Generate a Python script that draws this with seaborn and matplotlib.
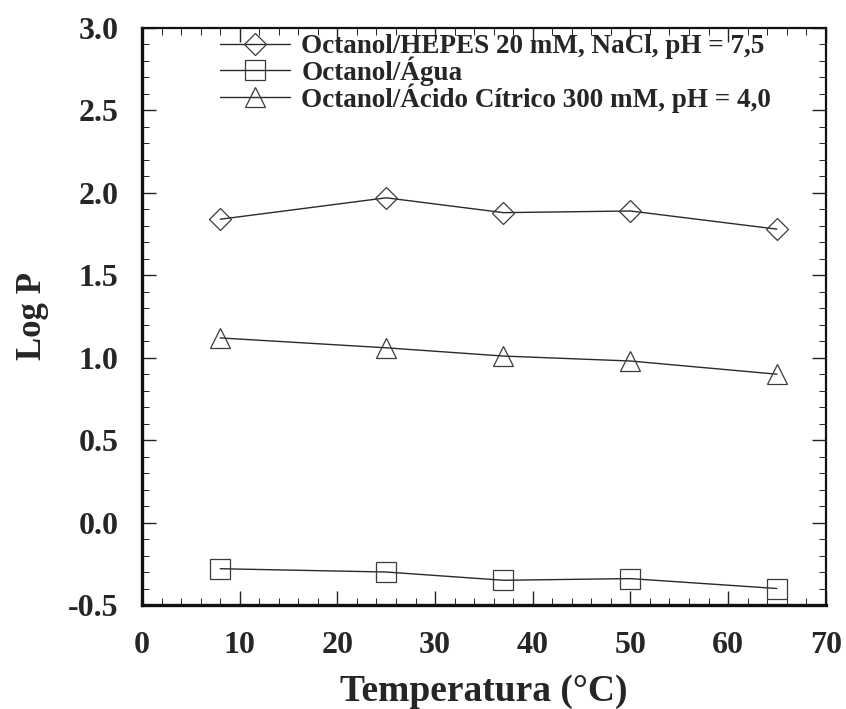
import matplotlib.pyplot as plt
import matplotlib.ticker as mticker
import numpy as np
import pandas as pd
import seaborn as sns

# data
temperatura = [8, 25, 37, 50, 65]
hepes = [1.84, 1.97, 1.88, 1.89, 1.78]
agua = [-0.28, -0.30, -0.35, -0.34, -0.40]
citrico = [1.12, 1.06, 1.01, 0.98, 0.90]

series_names = [
    'Octanol/HEPES 20 mM, NaCl, pH = 7,5',
    'Octanol/Água',
    'Octanol/Ácido Cítrico 300 mM, pH = 4,0',
]
series_values = [hepes, agua, citrico]
series_markers = ['D', 's', '^']
marker_sizes = [11, 15, 14.5]

x_ticks = [0, 10, 20, 30, 40, 50, 60, 70]
y_ticks = [-0.5, 0.0, 0.5, 1.0, 1.5, 2.0, 2.5, 3.0]


def init_fig_params():
    sns.set_style('ticks')
    plt.rcParams['font.family'] = ['Liberation Serif', 'DejaVu Serif']
    plt.rcParams['font.weight'] = 'bold'
    plt.rcParams['axes.unicode_minus'] = False


init_fig_params()

df = pd.DataFrame({
    'Temperatura': np.tile(temperatura, len(series_names)),
    'LogP': np.concatenate(series_values),
    'serie': np.repeat(series_names, len(temperatura)),
})

fig = plt.figure(figsize=(8.46, 7.09), dpi=100)
ax = fig.add_axes([0.168, 0.1467, 0.808, 0.8138])

for name, marker, ms in zip(series_names, series_markers, marker_sizes):
    sub = df[df['serie'] == name]
    sns.lineplot(data=sub, x='Temperatura', y='LogP', ax=ax,
                 color='#2a2a2a', linewidth=1.0, marker=marker,
                 markersize=ms, markerfacecolor='none',
                 markeredgecolor='#3a3a3a', markeredgewidth=0.9,
                 legend=False)

ax.set_xlim(0, 70)
ax.set_ylim(-0.5, 3.0)
ax.set_xticks(x_ticks)
ax.set_yticks(y_ticks)
ax.xaxis.set_minor_locator(mticker.MultipleLocator(2))
ax.yaxis.set_minor_locator(mticker.MultipleLocator(0.1))
ax.yaxis.set_major_formatter(mticker.FormatStrFormatter('%.1f'))
ax.tick_params(which='both', direction='in', top=True, right=True,
               color='#222222')
ax.tick_params(which='major', length=10, width=1.0, labelsize=23)
ax.tick_params(axis='x', which='major', pad=19)
ax.tick_params(axis='y', which='major', pad=17)
ax.tick_params(which='minor', length=5, width=0.7)
for side, spine in ax.spines.items():
    spine.set_linewidth(2.4 if side in ('left', 'bottom') else 1.6)
    spine.set_color('#111111')

ax.set_xlabel('Temperatura (°C)', fontsize=27, fontweight='bold', labelpad=10)
ax.set_ylabel('Log P', fontsize=25, fontweight='bold', labelpad=14)

ax.legend(ax.lines, series_names, loc='upper left',
          bbox_to_anchor=(0.11, 0.994), frameon=False, fontsize=19.5,
          handlelength=2.6, handletextpad=0.4, labelspacing=-0.1,
          borderaxespad=0.0, borderpad=0.1)

fig.savefig('out.png', dpi=100)
